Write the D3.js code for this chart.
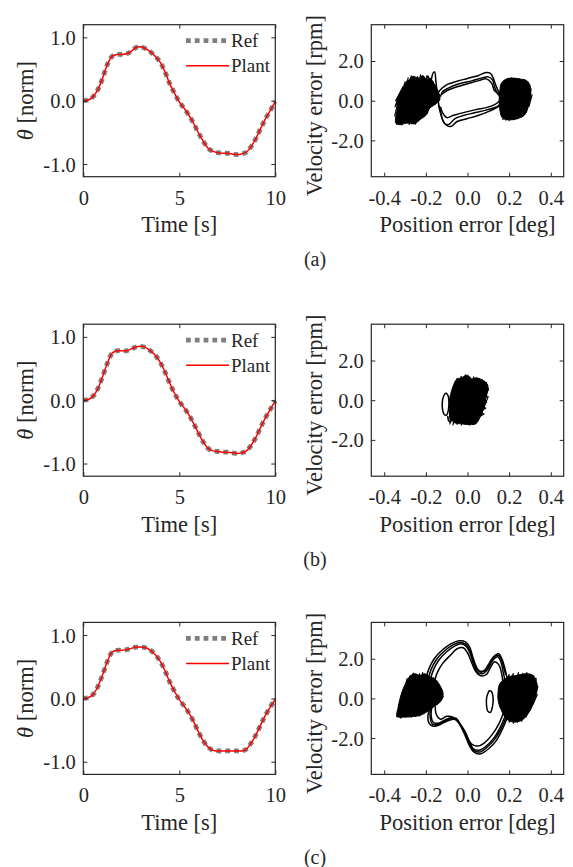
<!DOCTYPE html>
<html>
<head>
<meta charset="utf-8">
<script src="https://cdn.jsdelivr.net/npm/d3@7"></script>
<style>
  body { margin:0; background:#fff; }
  text { font-family: "Liberation Serif", "Times New Roman", serif; fill:#262626; }
</style>
</head>
<body>
<script>
// ---- data ----
var timeS = [0,0.25,0.5,0.75,1,1.25,1.5,1.75,2,2.25,2.5,2.75,3,3.25,3.5,3.75,4,4.25,4.5,4.75,5,
             5.25,5.5,5.75,6,6.25,6.5,6.75,7,7.25,7.5,7.75,8,8.25,8.5,8.75,9,9.25,9.5,9.75,10];

var refA = [0.00,0.01,0.06,0.17,0.35,0.57,0.70,0.73,0.73,0.74,0.78,0.84,0.85,0.82,0.77,0.70,0.61,0.46,0.27,0.12,-0.02,
            -0.12,-0.23,-0.36,-0.51,-0.64,-0.75,-0.80,-0.82,-0.83,-0.83,-0.84,-0.85,-0.84,-0.81,-0.72,-0.59,-0.43,-0.28,-0.15,-0.01];
var refB = [0.00,0.01,0.06,0.18,0.37,0.58,0.74,0.78,0.78,0.78,0.81,0.84,0.85,0.83,0.78,0.71,0.60,0.45,0.27,0.11,-0.02,
            -0.12,-0.23,-0.37,-0.52,-0.66,-0.76,-0.80,-0.81,-0.82,-0.82,-0.83,-0.84,-0.83,-0.80,-0.71,-0.58,-0.42,-0.27,-0.14,-0.01];
var refC = [0.00,0.01,0.06,0.18,0.37,0.58,0.73,0.76,0.76,0.77,0.79,0.81,0.81,0.80,0.76,0.69,0.59,0.44,0.26,0.11,-0.02,
            -0.12,-0.23,-0.37,-0.53,-0.67,-0.77,-0.82,-0.83,-0.83,-0.83,-0.83,-0.83,-0.83,-0.80,-0.70,-0.57,-0.41,-0.26,-0.13,-0.01];
// plant output tracks the reference to within a pixel in every panel
var plantA = refA, plantB = refB, plantC = refC;

var timeTicks = [0, 5, 10];
var thetaTicks = [-1, 0, 1];
var posTicks = [-0.4, -0.2, 0, 0.2, 0.4];
var velTicks = [-2, 0, 2];
var captions = ["(a)", "(b)", "(c)"];

// phase portraits: [position error deg, velocity error rpm]
// (a)
var blobA1 = [[-0.344,-1.13],[-0.338,-0.45],[-0.328,0.22],[-0.317,0.47],[-0.301,0.81],[-0.28,1.06],[-0.261,1.23],
              [-0.237,1.14],[-0.213,1.26],[-0.197,1.06],[-0.181,1.14],[-0.162,0.89],[-0.141,0.47],[-0.133,0.05],
              [-0.157,-0.2],[-0.181,-0.37],[-0.197,-0.71],[-0.229,-0.96],[-0.253,-1.16],[-0.293,-1.13],[-0.325,-1.21]];
var blobA2 = [[0.163,0.89],[0.187,1.09],[0.219,1.14],[0.251,1.09],[0.283,1.02],[0.299,0.81],[0.304,0.39],[0.296,-0.12],
              [0.275,-0.71],[0.235,-0.92],[0.195,-0.96],[0.168,-0.87],[0.155,-0.45],[0.152,0.05],[0.155,0.47]];
var hatchA = [
  [[-0.345,-1.1],[-0.3,0.95],[-0.34,-1.2],[-0.285,1.15],[-0.33,-1.0],[-0.27,1.25],[-0.315,-1.22],[-0.255,1.1],[-0.3,-1.15],
   [-0.24,1.22],[-0.28,-1.2],[-0.225,1.3],[-0.265,-1.1],[-0.21,1.15],[-0.25,-1.18],[-0.195,1.25],[-0.235,-1.0],[-0.18,1.05],
   [-0.22,-0.85],[-0.165,0.95],[-0.205,-0.55],[-0.15,0.6],[-0.185,-0.35],[-0.135,0.3],[-0.16,-0.2]],
  [[-0.35,-0.8],[-0.325,0.4],[-0.348,-0.3],[-0.31,0.7],[-0.345,0.0],[-0.29,1.0]],
  [[0.16,-0.7],[0.19,1.1],[0.17,-0.95],[0.21,1.15],[0.185,-0.98],[0.23,1.12],[0.2,-1.0],[0.25,1.1],[0.22,-0.95],[0.27,1.05],
   [0.24,-0.9],[0.29,0.95],[0.26,-0.8],[0.305,0.6],[0.28,-0.6],[0.31,0.3],[0.295,-0.3]]
];
var loopsA = [
  [[-0.2,0.9],[-0.19,1.25],[-0.18,0.85],[-0.165,1.4],[-0.158,1.45],[-0.152,1.0],[-0.147,0.5]],
  [[-0.14,0.1],[-0.138,0.45],[-0.12,0.65],[-0.1,0.8],[-0.05,0.98],[0.0,1.12],[0.05,1.26],[0.09,1.42],[0.11,1.38],[0.125,1.1],[0.135,0.8],[0.15,0.45],[0.17,0.25]],
  [[-0.13,0.2],[-0.12,0.45],[-0.09,0.65],[-0.04,0.85],[0.02,1.0],[0.07,1.15],[0.1,1.2],[0.12,1.05],[0.13,0.7],[0.145,0.35],[0.165,0.15]],
  [[-0.125,0.3],[-0.1,0.5],[-0.05,0.7],[0.0,0.85],[0.05,1.0],[0.09,1.1],[0.115,0.9],[0.13,0.5],[0.16,0.3]],
  [[0.16,-0.05],[0.15,-0.25],[0.12,-0.38],[0.08,-0.5],[0.03,-0.62],[-0.02,-0.75],[-0.06,-0.9],[-0.09,-1.2],[-0.11,-1.15],[-0.125,-0.8],[-0.135,-0.4],[-0.14,-0.05]],
  [[0.165,-0.15],[0.14,-0.35],[0.1,-0.55],[0.05,-0.75],[0.0,-0.9],[-0.05,-1.05],[-0.08,-1.3],[-0.1,-1.25],[-0.12,-0.95],[-0.13,-0.5],[-0.14,-0.2]],
  [[0.155,0.0],[0.13,-0.2],[0.09,-0.35],[0.04,-0.45],[-0.02,-0.6],[-0.07,-0.75],[-0.1,-0.85],[-0.12,-0.6],[-0.13,-0.3]]
];
// (b)
var blobB1 = [[-0.053,1.04],[-0.029,1.13],[0.0,1.26],[0.019,1.08],[0.043,1.13],[0.067,1.04],[0.091,0.87],[0.099,0.62],
              [0.091,0.29],[0.083,-0.13],[0.072,-0.55],[0.059,-0.89],[0.04,-1.19],[0.011,-1.23],[-0.029,-1.19],
              [-0.061,-1.14],[-0.082,-0.89],[-0.088,-0.39],[-0.085,0.12],[-0.077,0.45],[-0.069,0.71]];
var hatchB = [
  [[-0.09,-1.0],[-0.05,1.1],[-0.085,-1.2],[-0.03,1.2],[-0.07,-1.25],[-0.01,1.28],[-0.05,-1.22],[0.01,1.15],[-0.03,-1.25],
   [0.03,1.18],[-0.01,-1.2],[0.05,1.1],[0.01,-1.25],[0.07,1.05],[0.03,-1.15],[0.09,0.9],[0.05,-1.0],[0.1,0.6],[0.065,-0.75],[0.1,0.2]],
  [[0.06,0.9],[0.097,0.75],[0.06,0.6],[0.1,0.5],[0.06,0.35],[0.095,0.2],[0.06,0.05],[0.092,-0.1],[0.055,-0.3],[0.088,-0.4],
   [0.05,-0.6],[0.08,-0.7],[0.045,-0.9]]
];
var loopsB = [
  [[-0.105,0.37],[-0.115,0.2],[-0.121,-0.1],[-0.12,-0.45],[-0.112,-0.72],[-0.1,-0.75],[-0.092,-0.5],[-0.089,-0.1],[-0.094,0.25],[-0.105,0.37]],
  [[-0.095,-0.8],[-0.09,-1.05],[-0.08,-1.08],[-0.078,-0.9]]
];
// (c)
var blobC1 = [[-0.338,-0.91],[-0.333,-0.44],[-0.322,0.07],[-0.309,0.49],[-0.293,0.82],[-0.277,1.11],[-0.253,1.24],
              [-0.229,1.16],[-0.205,1.24],[-0.181,1.08],[-0.157,0.99],[-0.133,0.66],[-0.117,0.24],[-0.125,-0.1],
              [-0.141,-0.27],[-0.165,-0.44],[-0.197,-0.69],[-0.229,-0.86],[-0.261,-0.91],[-0.301,-0.94]];
var blobC2 = [[0.155,0.74],[0.195,1.08],[0.235,1.16],[0.283,1.24],[0.315,1.16],[0.334,0.74],[0.331,0.24],[0.315,-0.27],
              [0.291,-0.77],[0.259,-1.11],[0.219,-1.19],[0.187,-1.03],[0.163,-0.61],[0.147,-0.1],[0.147,0.32]];
var hatchC = [
  [[-0.34,-0.95],[-0.29,1.0],[-0.335,-0.9],[-0.275,1.15],[-0.32,-1.0],[-0.26,1.28],[-0.3,-0.95],[-0.245,1.2],[-0.285,-0.92],
   [-0.23,1.25],[-0.27,-0.95],[-0.215,1.3],[-0.25,-0.9],[-0.2,1.2],[-0.23,-0.88],[-0.185,1.15],[-0.21,-0.75],[-0.165,1.05],
   [-0.19,-0.6],[-0.145,0.8],[-0.17,-0.45],[-0.125,0.4],[-0.15,-0.3],[-0.115,0.1]],
  [[0.15,0.2],[0.2,1.2],[0.155,-0.4],[0.22,1.25],[0.17,-0.8],[0.245,1.3],[0.185,-1.1],[0.265,1.25],[0.2,-1.2],[0.285,1.3],
   [0.22,-1.25],[0.3,1.2],[0.24,-1.2],[0.315,1.15],[0.26,-1.15],[0.33,1.0],[0.28,-0.95],[0.338,0.6],[0.3,-0.6],[0.335,0.2],[0.315,-0.3]]
];
var loopsC = [
  [[-0.2,1.0],[-0.185,1.5],[-0.16,2.0],[-0.12,2.45],[-0.08,2.75],[-0.04,2.9],[-0.01,2.85],[0.01,2.6],[0.025,2.1],[0.04,1.65],[0.055,1.4],[0.08,1.4],[0.1,1.7],[0.125,2.1],[0.15,2.25],[0.165,2.0],[0.18,1.5],[0.19,1.0]],
  [[-0.19,0.95],[-0.175,1.45],[-0.15,1.95],[-0.11,2.4],[-0.07,2.7],[-0.035,2.82],[-0.008,2.72],[0.012,2.4],[0.028,1.9],[0.045,1.48],[0.065,1.32],[0.09,1.45],[0.11,1.8],[0.135,2.15],[0.155,2.12],[0.17,1.7],[0.183,1.2]],
  [[-0.18,0.9],[-0.165,1.4],[-0.14,1.9],[-0.1,2.35],[-0.06,2.65],[-0.03,2.75],[-0.005,2.6],[0.015,2.2],[0.03,1.7],[0.05,1.3],[0.075,1.25],[0.1,1.5],[0.12,1.9],[0.145,2.1],[0.16,1.85],[0.172,1.3],[0.18,0.9]],
  [[-0.16,0.8],[-0.145,1.3],[-0.12,1.75],[-0.08,2.2],[-0.05,2.5],[-0.02,2.55],[0.0,2.3],[0.02,1.8],[0.04,1.35],[0.06,1.15],[0.09,1.2],[0.11,1.55],[0.13,1.85],[0.15,1.7],[0.165,1.2],[0.17,0.8]],
  [[0.19,-1.0],[0.17,-1.5],[0.14,-2.1],[0.1,-2.55],[0.06,-2.8],[0.03,-2.7],[0.01,-2.4],[-0.01,-1.9],[-0.03,-1.45],[-0.05,-1.1],[-0.07,-1.05],[-0.1,-1.15],[-0.14,-1.35],[-0.165,-1.4],[-0.185,-1.25],[-0.19,-0.9],[-0.18,-0.4]],
  [[0.185,-0.95],[0.165,-1.45],[0.135,-2.0],[0.095,-2.45],[0.06,-2.7],[0.03,-2.62],[0.01,-2.3],[-0.01,-1.8],[-0.032,-1.38],[-0.052,-1.05],[-0.075,-1.0],[-0.105,-1.12],[-0.14,-1.3],[-0.168,-1.3],[-0.18,-0.85],[-0.175,-0.4]],
  [[0.18,-0.9],[0.16,-1.4],[0.13,-1.95],[0.09,-2.4],[0.06,-2.6],[0.03,-2.55],[0.01,-2.2],[-0.01,-1.7],[-0.035,-1.3],[-0.055,-1.0],[-0.08,-0.98],[-0.11,-1.1],[-0.14,-1.25],[-0.165,-1.2],[-0.175,-0.8],[-0.17,-0.4]],
  [[0.17,-0.8],[0.15,-1.3],[0.12,-1.8],[0.08,-2.25],[0.05,-2.4],[0.02,-2.3],[0.0,-2.0],[-0.02,-1.55],[-0.045,-1.2],[-0.07,-0.95],[-0.1,-0.9],[-0.13,-1.05],[-0.15,-0.8],[-0.155,-0.4]],
  [[0.105,0.4],[0.093,0.1],[0.091,-0.3],[0.098,-0.65],[0.11,-0.7],[0.12,-0.4],[0.123,0.0],[0.115,0.35],[0.105,0.4]]
];

var panels = [
  {ref: refA, plant: plantA, blobs: [blobA1, blobA2], hatch: hatchA, loops: loopsA},
  {ref: refB, plant: plantB, blobs: [blobB1], hatch: hatchB, loops: loopsB},
  {ref: refC, plant: plantC, blobs: [blobC1, blobC2], hatch: hatchC, loops: loopsC}
];

// ---- layout ----
var width = 573, height = 867;
var panelTop = [24.7, 324.2, 622.4];
var boxH = 152;
var lx0 = 83.3, lx1 = 275.3, rx0 = 371.3, rx1 = 563.7;
var ink = "#262626";
var tickFont = "20.5px", labelFont = "22.5px";

var svg = d3.select("body").append("svg")
  .attr("width", width)
  .attr("height", height);

function fmt1(d) { return d.toFixed(1); }

function box(g, x0, x1, xs, ys, xt, yt, xf, yf) {
  // bottom / left carry labels, top / right only ticks, all pointing inward
  var b = g.append("g").attr("transform", "translate(0," + boxH + ")")
    .call(d3.axisBottom(xs).tickValues(xt).tickFormat(xf).tickSizeInner(-4).tickSizeOuter(0));
  b.selectAll("text").attr("y", 28).attr("dy", 0);
  var l = g.append("g").attr("transform", "translate(" + x0 + ",0)")
    .call(d3.axisLeft(ys).tickValues(yt).tickFormat(yf).tickSizeInner(-4).tickSizeOuter(0).tickPadding(7.5));
  l.selectAll("text").attr("dy", "0.34em");
  g.append("g").call(d3.axisTop(xs).tickValues(xt).tickFormat("").tickSizeInner(-4).tickSizeOuter(0));
  g.append("g").attr("transform", "translate(" + x1 + ",0)")
    .call(d3.axisRight(ys).tickValues(yt).tickFormat("").tickSizeInner(-4).tickSizeOuter(0));
  g.selectAll(".domain").remove();
  g.selectAll(".tick line").attr("stroke", ink);
  g.selectAll(".tick text").attr("fill", ink).style("font-size", tickFont);
  g.append("rect")
    .attr("x", x0).attr("y", 0).attr("width", x1 - x0).attr("height", boxH)
    .attr("fill", "none").attr("stroke", ink).attr("stroke-width", 1.2);
}

panels.forEach(function(p, i) {
  var g = svg.append("g").attr("transform", "translate(0," + panelTop[i] + ")");

  // ---- left: theta vs time ----
  var x = d3.scaleLinear().domain([0, 10]).range([lx0, lx1]);
  var y = d3.scaleLinear().domain([-1.2, 1.2]).range([boxH, 0]);
  var line = d3.line()
    .x(function(d, k) { return x(timeS[k]); })
    .y(function(d) { return y(d); })
    .curve(d3.curveCatmullRom);

  g.append("path").datum(p.ref).attr("d", line)
    .attr("fill", "none").attr("stroke", "#7f7f7f").attr("stroke-width", 4.8)
    .attr("stroke-dasharray", "4.8,4");
  g.append("path").datum(p.plant).attr("d", line)
    .attr("fill", "none").attr("stroke", "#ff0000").attr("stroke-width", 1.5);

  box(g, lx0, lx1, x, y, timeTicks, thetaTicks, function(d) { return d; }, fmt1);

  // legend
  var leg = [{name: "Ref", y: 16, c: "#7f7f7f", w: 4.8, dash: "4.8,4"},
             {name: "Plant", y: 41, c: "#ff0000", w: 1.5, dash: null}];
  leg.forEach(function(e) {
    g.append("line").attr("x1", 186).attr("x2", 229).attr("y1", e.y).attr("y2", e.y)
      .attr("stroke", e.c).attr("stroke-width", e.w).attr("stroke-dasharray", e.dash);
    g.append("text").attr("x", 231).attr("y", e.y).attr("dy", "0.34em")
      .style("font-size", "19px").text(e.name);
  });

  g.append("text").attr("x", (lx0 + lx1) / 2).attr("y", 207.5)
    .attr("text-anchor", "middle").style("font-size", labelFont).text("Time [s]");
  var yl = g.append("text").attr("transform", "translate(32.5," + (boxH / 2) + ") rotate(-90)")
    .attr("text-anchor", "middle").style("font-size", labelFont);
  yl.append("tspan").style("font-style", "italic").text("θ");
  yl.append("tspan").text(" [norm]");

  // ---- right: phase portrait ----
  var px = d3.scaleLinear().domain([-0.462, 0.462]).range([rx0, rx1]);
  var py = d3.scaleLinear().domain([-3.83, 3.83]).range([boxH, 0]);
  var area = d3.line()
    .x(function(d) { return px(d[0]); })
    .y(function(d) { return py(d[1]); })
    .curve(d3.curveCatmullRomClosed);
  var zig = d3.line()
    .x(function(d) { return px(d[0]); })
    .y(function(d) { return py(d[1]); });
  var pl = d3.line()
    .x(function(d) { return px(d[0]); })
    .y(function(d) { return py(d[1]); })
    .curve(d3.curveCatmullRom);

  g.append("g").selectAll("path").data(p.blobs).enter().append("path")
    .attr("d", area)
    .attr("fill", "#000").attr("stroke", "#000").attr("stroke-width", 1);
  g.append("g").selectAll("path").data(p.hatch).enter().append("path")
    .attr("d", zig)
    .attr("fill", "none").attr("stroke", "#000").attr("stroke-width", 1.2).attr("stroke-linejoin", "round");
  g.append("g").selectAll("path").data(p.loops).enter().append("path")
    .attr("d", pl)
    .attr("fill", "none").attr("stroke", "#000").attr("stroke-width", 1.5);

  box(g, rx0, rx1, px, py, posTicks, velTicks, fmt1, fmt1);

  g.append("text").attr("x", (rx0 + rx1) / 2).attr("y", 207.5)
    .attr("text-anchor", "middle").style("font-size", labelFont).text("Position error [deg]");
  g.append("text").attr("transform", "translate(322," + (boxH / 2 + 5) + ") rotate(-90)")
    .attr("text-anchor", "middle").style("font-size", labelFont).text("Velocity error [rpm]");

  g.append("text").attr("x", 315).attr("y", 241.5)
    .attr("text-anchor", "middle").style("font-size", "20px").text(captions[i]);
});
</script>
</body>
</html>
